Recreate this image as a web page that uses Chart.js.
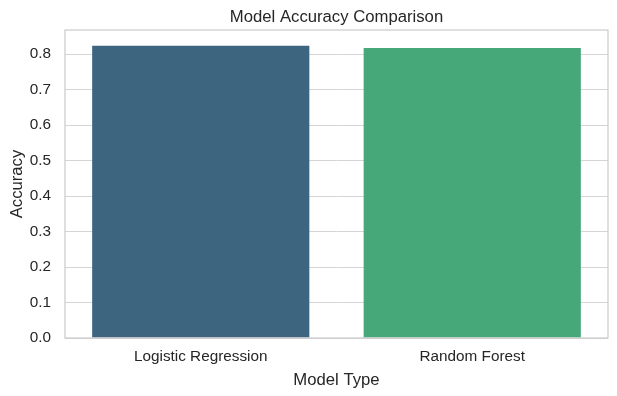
<!DOCTYPE html>
<html>
<head>
<meta charset="utf-8">
<script src="https://cdn.jsdelivr.net/npm/chart.js@4/dist/chart.umd.min.js"></script>
<style>
  body { margin: 0; background: #fff; }
  #wrap { width: 617px; height: 396px; }
</style>
</head>
<body>
<div id="wrap"><canvas id="grafico" width="617" height="396"></canvas></div>
<script>
const modelos = ["Logistic Regression", "Random Forest"];
const acuracia = [0.8234, 0.8172];
const cores = ["#3e6580", "#46a878"];
const yTicks = [0, 0.1, 0.2, 0.3, 0.4, 0.5, 0.6, 0.7, 0.8];

const fonte = "'Liberation Sans', Arial, sans-serif";
const texto = "#262626";

// moldura cinza em volta da area do grafico (estilo whitegrid)
const moldura = {
  id: "moldura",
  afterDraw(chart) {
    const { ctx, chartArea: a } = chart;
    ctx.save();
    ctx.strokeStyle = "#cccccc";
    ctx.lineWidth = 1.25;
    ctx.strokeRect(a.left, a.top, a.right - a.left, a.bottom - a.top);
    ctx.restore();
  }
};

new Chart(document.getElementById("grafico"), {
  type: "bar",
  data: {
    labels: modelos,
    datasets: [{
      data: acuracia,
      backgroundColor: cores,
      borderWidth: 0,
      barPercentage: 0.8,
      categoryPercentage: 1
    }]
  },
  options: {
    responsive: false,
    animation: false,
    layout: { padding: { right: 9 } },
    plugins: {
      legend: { display: false },
      tooltip: { enabled: false },
      title: {
        display: true,
        text: "Model Accuracy Comparison",
        fullSize: false,
        color: texto,
        font: { family: fonte, size: 16.7, weight: "normal" },
        padding: { top: 7, bottom: 3 }
      }
    },
    scales: {
      x: {
        grid: { display: false, drawTicks: false },
        border: { display: false },
        ticks: { color: texto, font: { family: fonte, size: 15.3 }, padding: 10 },
        title: {
          display: true,
          text: "Model Type",
          color: texto,
          font: { family: fonte, size: 16.7 },
          padding: { top: 6, bottom: 6 }
        },
        afterFit(s) { s.height = 58; }
      },
      y: {
        min: 0,
        max: 0.868,
        grid: { color: "#d5d5d5", lineWidth: 1, drawTicks: false },
        border: { display: false },
        afterBuildTicks(s) { s.ticks = yTicks.map(v => ({ value: v })); },
        ticks: {
          color: texto,
          font: { family: fonte, size: 15.3 },
          padding: 14,
          callback: v => Number(v).toFixed(1)
        },
        title: {
          display: true,
          text: "Accuracy",
          color: texto,
          font: { family: fonte, size: 16.7 },
          padding: { top: 7, bottom: 0 }
        },
        afterFit(s) { s.width = 65; }
      }
    }
  },
  plugins: [moldura]
});
</script>
</body>
</html>
